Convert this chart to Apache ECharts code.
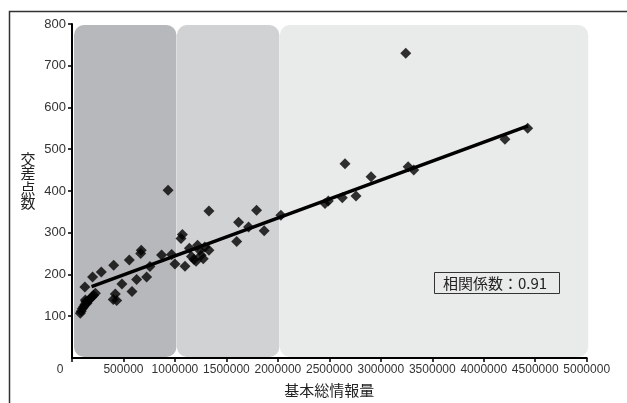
<!DOCTYPE html>
<html>
<head>
<meta charset="utf-8">
<script src="https://cdn.jsdelivr.net/npm/echarts@6/dist/echarts.min.js"></script>
<style>
  html, body { margin: 0; padding: 0; background: #fff; }
  #chart { width: 627px; height: 403px; }
</style>
</head>
<body>
<div id="chart"></div>
<script>
// 基本総情報量 (x) と 交差点数 (y) の観測値
const infoVolume = [
  81000, 90000, 100000, 113000, 125000, 135000, 146000, 160000, 130000, 175000,
  194000, 210000, 227000, 125000, 200000, 285000, 405000, 557000, 667000, 673000,
  870000, 968000, 757000, 725000, 628000, 583000, 485000, 421000, 401000, 434000,
  933000,
  1000000, 1059000, 1072000, 1098000, 1140000, 1160000, 1185000, 1205000, 1220000,
  1240000, 1255000, 1275000, 1290000, 1330000, 1330000, 1600000, 1618000, 1715000,
  1793000, 1867000, 2029000,
  2458000, 2490000, 2626000, 2652000, 2759000, 2905000, 3242000, 3265000, 3320000,
  4206000, 4427000
];
const intersections = [
  107, 112, 118, 123, 128, 135, 131, 138, 139, 142,
  146, 150, 155, 170, 194, 206, 222, 235, 250, 258,
  247, 248, 219, 194, 188, 159, 177, 153, 140, 138,
  402,
  225, 286, 296, 220, 263, 243, 236, 232, 270,
  258, 246, 238, 266, 258, 352, 279, 325, 314,
  354, 305, 342,
  370, 376, 384, 465, 388, 434, 730, 458, 450,
  524, 550
];

// 近似直線の両端
const trendX = [190000, 4430000];
const trendY = [171, 556];

// 背景の区分 (基本総情報量の範囲)
const bandStarts = [0, 1000000, 2000000];
const bandEnds = [1000000, 2000000, 5000000];
const bandColors = ['#b7b8bb', '#d1d2d4', '#e9eaea'];

// 軸の範囲
const xMin = 0, xMax = 5000000, xStep = 500000;
const yMin = 0, yMax = 800, yStep = 100;

const xTitle = '基本総情報量';
const yTitle = '交差点数';
const corrLabel = '相関係数：0.91';

const chart = echarts.init(document.getElementById('chart'), null, { renderer: 'canvas' });

const numFont = 'Liberation Sans';
const jpFont = 'Noto Sans CJK JP';

chart.setOption({
  animation: false,
  backgroundColor: '#fff',
  grid: { left: 72, right: 40.3, top: 24, bottom: 45 },
  title: {
    text: corrLabel,
    left: 434,
    top: 272,
    padding: [2, 13, 2, 9],
    borderColor: '#333',
    borderWidth: 1,
    textStyle: { fontFamily: jpFont, fontSize: 15, fontWeight: 'normal', color: '#222', lineHeight: 18 }
  },
  graphic: [
    {
      type: 'rect',
      silent: true,
      shape: { x: 9.5, y: 11.5, width: 700, height: 500 },
      style: { fill: 'none', stroke: '#333', lineWidth: 1.5 }
    },
    {
      // 縦書きの軸タイトル
      type: 'text',
      silent: true,
      x: 28,
      y: 152,
      style: {
        text: yTitle.split('').join('\n'),
        fontFamily: jpFont,
        fontSize: 15,
        lineHeight: 14.5,
        fill: '#222',
        align: 'center',
        verticalAlign: 'top'
      }
    }
  ],
  xAxis: {
    type: 'value',
    min: xMin, max: xMax, interval: xStep,
    name: xTitle,
    nameLocation: 'middle',
    nameGap: 25,
    nameTextStyle: { fontFamily: jpFont, fontSize: 15, color: '#222' },
    axisLine: { lineStyle: { color: '#000', width: 2 } },
    axisTick: { length: 4, lineStyle: { color: '#000', width: 1.5 } },
    splitLine: { show: false },
    axisLabel: {
      margin: 6,
      fontFamily: numFont, fontSize: 12, color: '#333',
      formatter: v => v === 0 ? '{z|0}' : String(v),
      rich: { z: { fontFamily: numFont, fontSize: 12, color: '#333', padding: [0, 24, 0, 0] } }
    }
  },
  yAxis: {
    type: 'value',
    min: yMin, max: yMax, interval: yStep,
    axisLine: { lineStyle: { color: '#000', width: 2 } },
    axisTick: { length: 4, lineStyle: { color: '#000', width: 1.5 } },
    splitLine: { show: false },
    axisLabel: { margin: 6, fontFamily: numFont, fontSize: 13, color: '#333', showMinLabel: false }
  },
  series: [
    {
      type: 'custom',
      silent: true,
      clip: false,
      z: 1,
      encode: { x: [0, 1] },
      data: bandStarts.map((s, i) => [s, bandEnds[i]]),
      renderItem: (params, api) => {
        const a = api.coord([api.value(0), yMax]);
        const b = api.coord([api.value(1), yMin]);
        return {
          type: 'rect',
          shape: { x: a[0] + 2, y: a[1] + 1, width: b[0] - a[0] - 0.5, height: b[1] - a[1] - 2, r: 10 },
          style: { fill: bandColors[params.dataIndex] }
        };
      }
    },
    {
      type: 'line',
      z: 3,
      silent: true,
      showSymbol: false,
      symbol: 'none',
      data: trendX.map((x, i) => [x, trendY[i]]),
      lineStyle: { color: '#000', width: 3.5 }
    },
    {
      type: 'scatter',
      z: 4,
      symbol: 'diamond',
      symbolSize: 11,
      itemStyle: { color: '#000' },
      data: infoVolume.map((x, i) => [x, intersections[i]])
    }
  ]
});
</script>
</body>
</html>
